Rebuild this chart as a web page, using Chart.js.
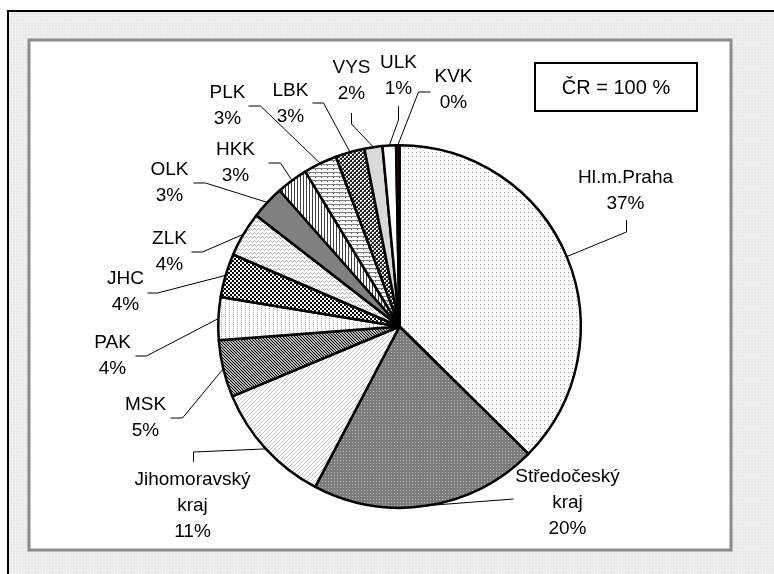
<!DOCTYPE html>
<html lang="cs">
<head>
<meta charset="utf-8">
<title>Podíl krajů</title>
<script src="https://cdn.jsdelivr.net/npm/chart.js@4/dist/chart.umd.min.js"></script>
<style>
    html, body { margin: 0; padding: 0; background: #fff; }
    canvas { display: block; }
</style>
</head>
<body>
<canvas id="grafKraje" width="774" height="574"></canvas>
<script>
/* ============================================
   Podíl krajů – koláčový graf (ČR = 100 %)
   ============================================ */

// ============= DATA =============
const kraje = ['Hl.m.Praha', 'Středočeský\nkraj', 'Jihomoravský\nkraj', 'MSK', 'PAK', 'JHC', 'ZLK',
               'OLK', 'HKK', 'PLK', 'LBK', 'VYS', 'ULK', 'KVK'];
const podily = [37.4, 20.3, 11.0, 5.1, 3.8, 3.9, 4.0, 3.0, 2.8, 3.0, 2.6, 1.6, 1.2, 0.3];
const souhrn = 'ČR = 100 %';

// ============= ROZLOŽENÍ POPISKŮ (posun od středu koláče) =============
const rozlozeni = [
    { text: [226, -148.5],  koleno: [227, -94.5],  konec: [227, -106.5] },
    { text: [168, 150.5],   koleno: [114, 172.5],  konec: [114, 172.5] },
    { text: [-207, 153.5],  koleno: [-206, 125.5], konec: [-206, 135.5] },
    { text: [-254, 78.5],   koleno: [-217, 91.5],  konec: [-229, 91.5] },
    { text: [-287, 16.5],   koleno: [-253, 29.5],  konec: [-264, 29.5] },
    { text: [-274, -47.5],  koleno: [-242, -33.5], konec: [-252, -33.5] },
    { text: [-230, -87.5],  koleno: [-197, -74.5], konec: [-208, -74.5] },
    { text: [-230, -156.5], koleno: [-194, -143.5], konec: [-206, -143.5] },
    { text: [-164, -176.5], koleno: [-119, -163.5], konec: [-131, -163.5] },
    { text: [-172, -233.5], koleno: [-139, -220.5], konec: [-151, -220.5] },
    { text: [-109, -235.5], koleno: [-76, -223.5],  konec: [-87, -223.5] },
    { text: [-48, -258.5],  koleno: [-48, -202.5],  konec: [-48, -213.5] },
    { text: [-1, -263.5],   koleno: [-1, -206.5],   konec: [-1, -220.5] },
    { text: [54, -249.5],   koleno: [19, -234.5],   konec: [31, -234.5] }
];

const PISMO = '"Liberation Sans", Arial, sans-serif';

// ============= VZORY VÝPLNÍ =============
const platno = document.getElementById('grafKraje');
const ctx = platno.getContext('2d');

function vzor(w, h, zaklad, body) {
    const c = document.createElement('canvas');
    c.width = w; c.height = h;
    const g = c.getContext('2d');
    g.fillStyle = zaklad;
    g.fillRect(0, 0, w, h);
    body.forEach(([x, y, barva]) => {
        g.fillStyle = barva;
        g.fillRect(x, y, 1, 1);
    });
    return ctx.createPattern(c, 'repeat');
}

const vyplne = [
    vzor(4, 4, '#ffffff', [[0, 0, '#9a9a9a']]),
    vzor(3, 3, '#7c7c7c', [[1, 1, '#b8b8b8']]),
    vzor(4, 4, '#ffffff', [[3, 0, '#c4c4c4'], [2, 1, '#c4c4c4'], [1, 2, '#c4c4c4'], [0, 3, '#c4c4c4']]),
    vzor(3, 3, '#b4b4b4', [[0, 0, '#000'], [1, 1, '#000'], [2, 2, '#000']]),
    vzor(4, 2, '#ffffff', [[1, 0, '#b4b4b4']]),
    vzor(4, 4, '#ffffff', [[0, 0, '#000'], [1, 0, '#000'], [0, 1, '#000'], [1, 1, '#000'],
                           [2, 2, '#000'], [3, 2, '#000'], [2, 3, '#000'], [3, 3, '#000']]),
    vzor(4, 4, '#ffffff', [[0, 2, '#b0b0b0'], [1, 1, '#b0b0b0'], [2, 0, '#b0b0b0'], [3, 1, '#b0b0b0']]),
    '#808080',
    vzor(3, 1, '#ffffff', [[0, 0, '#404040']]),
    vzor(6, 4, '#ffffff', [[0, 0, '#808080'], [1, 0, '#808080'], [2, 0, '#808080'], [3, 0, '#808080'],
                           [4, 0, '#808080'], [5, 0, '#808080'], [3, 1, '#606060']]),
    vzor(4, 4, '#202020', [[0, 0, '#fff'], [1, 0, '#fff'], [0, 1, '#fff'], [2, 2, '#fff'],
                           [3, 2, '#fff'], [2, 3, '#fff'], [1, 1, '#808080'], [3, 3, '#808080']]),
    '#d9d9d9',
    '#ffffff',
    '#800000'
];

const pozadi = vzor(3, 3, '#ebebeb', [[0, 0, '#f7f7f7']]);

// ============= RÁMEČEK A POPISKY =============
const ramecek = {
    id: 'ramecek',
    beforeDraw(chart) {
        const c = chart.ctx;
        c.save();
        c.fillStyle = '#fff';
        c.fillRect(0, 0, chart.width, chart.height);
        c.fillStyle = pozadi;
        c.fillRect(8, 11, chart.width - 8, chart.height - 11);
        c.strokeStyle = '#000';
        c.lineWidth = 2;
        c.beginPath();
        c.moveTo(8, chart.height);
        c.lineTo(8, 11);
        c.lineTo(chart.width, 11);
        c.stroke();

        // plocha grafu
        c.fillStyle = '#fff';
        c.fillRect(29, 40, 702, 510);
        c.strokeStyle = '#8a8a8a';
        c.lineWidth = 3;
        c.strokeRect(29, 40, 702, 510);

        // souhrnný rámeček
        c.strokeStyle = '#000';
        c.lineWidth = 2;
        c.strokeRect(535, 63, 162, 48);
        c.fillStyle = '#000';
        c.font = '20px ' + PISMO;
        c.textAlign = 'center';
        c.textBaseline = 'middle';
        c.fillText(souhrn, 616, 88);
        c.restore();
    },
    afterDatasetsDraw(chart) {
        const c = chart.ctx;
        const meta = chart.getDatasetMeta(0);
        c.save();
        c.strokeStyle = '#000';
        c.lineWidth = 1;
        c.fillStyle = '#000';
        c.font = '19px ' + PISMO;
        c.textAlign = 'center';
        c.textBaseline = 'middle';
        meta.data.forEach((arc, i) => {
            const p = arc.getProps(['x', 'y', 'startAngle', 'endAngle', 'outerRadius'], true);
            const stred = (p.startAngle + p.endAngle) / 2;
            const r = rozlozeni[i];
            c.beginPath();
            c.moveTo(p.x + Math.cos(stred) * p.outerRadius, p.y + Math.sin(stred) * p.outerRadius);
            c.lineTo(p.x + r.koleno[0], p.y + r.koleno[1]);
            c.lineTo(p.x + r.konec[0], p.y + r.konec[1]);
            c.stroke();

            const radky = kraje[i].split('\n').concat(Math.round(podily[i]) + '%');
            radky.forEach((t, j) => {
                c.fillText(t, p.x + r.text[0], p.y + r.text[1] + j * 26);
            });
        });
        c.restore();
    }
};

// ============= GRAF =============
new Chart(platno, {
    type: 'pie',
    data: {
        labels: kraje,
        datasets: [{
            data: podily,
            backgroundColor: vyplne,
            borderColor: '#000',
            borderWidth: 2.5,
            hoverBorderWidth: 2.5
        }]
    },
    options: {
        responsive: false,
        devicePixelRatio: 1,
        animation: false,
        events: [],
        layout: { padding: { left: 217, right: 192, top: 144, bottom: 65 } },
        plugins: {
            legend: { display: false },
            tooltip: { enabled: false }
        }
    },
    plugins: [ramecek]
});
</script>
</body>
</html>
